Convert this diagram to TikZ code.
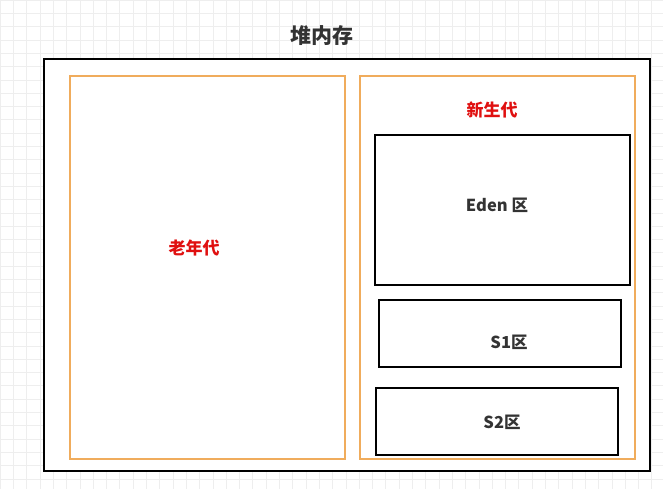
\documentclass[tikz,border=0pt]{standalone}
\usepackage{fontspec}
\newfontfamily\cjk{Noto Sans CJK SC}
\definecolor{gridgray}{RGB}{238,238,238}
\definecolor{genorange}{RGB}{240,172,92}
\definecolor{genred}{RGB}{224,16,16}
\definecolor{txtgray}{RGB}{51,51,51}
\tikzset{
  blackbox/.style={draw=black, line width=1.4pt, fill=white, inner sep=0pt},
  genbox/.style={draw=genorange, line width=1.4pt, inner sep=0pt},
  areabox/.style={draw=black, line width=1.2pt, inner sep=0pt},
  gentext/.style={text=genred, font=\cjk\bfseries\fontsize{17}{20}\selectfont},
  areatext/.style={text=txtgray, font=\cjk\bfseries\fontsize{16.5}{19}\selectfont}
}
\begin{document}
\begin{tikzpicture}[x=1pt, y=-1pt]
  \useasboundingbox (0,0) rectangle (663,489);
  \draw[gridgray, line width=0.5pt, step=13.3pt] (0,0) grid (663,489);
  % heap
  \node[blackbox, minimum width=606pt, minimum height=412pt] (heap) at (347,265) {};
  \node[text=txtgray, font=\cjk\bfseries\fontsize{21}{24}\selectfont] (heaptitle) at (322,36) {堆内存};
  % generations
  \node[genbox, minimum width=275pt, minimum height=383pt] (old) at (207.5,267.5) {};
  \node[genbox, minimum width=275pt, minimum height=383pt] (young) at (497.5,267.5) {};
  \node[gentext] (oldtext) at (194,248) {老年代};
  \node[gentext] (youngtext) at (492,110) {新生代};
  % young areas
  \node[areabox, minimum width=255pt, minimum height=150pt] (eden) at (502.5,210) {};
  \node[areabox, minimum width=242pt, minimum height=67pt] (s1) at (500,333.5) {};
  \node[areabox, minimum width=242pt, minimum height=67pt] (s2) at (497,421.5) {};
  \node[areatext] (edentext) at (497,205) {Eden 区};
  \node[areatext] (s1text) at (509,342) {S1区};
  \node[areatext] (s2text) at (502,422) {S2区};
\end{tikzpicture}
\end{document}
